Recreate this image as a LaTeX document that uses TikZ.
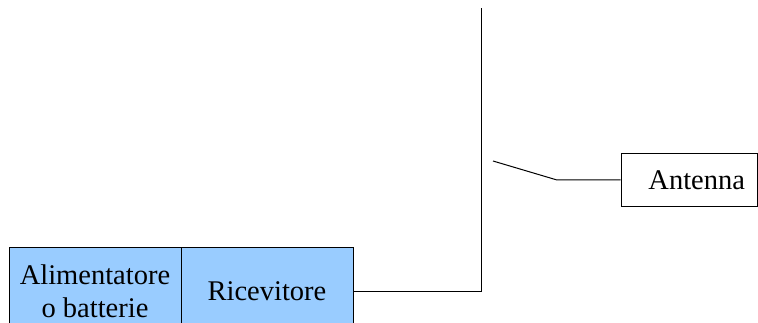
\documentclass[tikz,border=0pt]{standalone}
\usepackage{fontspec}
\setmainfont{Liberation Serif}
\definecolor{boxblue}{RGB}{153,204,255}

\begin{document}
\begin{tikzpicture}[x=1pt,y=-1pt]
\tikzstyle{every node}=[font=\fontsize{28.5}{33}\selectfont]
\tikzstyle{blockbox}=[draw, line width=1pt, fill=boxblue, minimum width=172pt, minimum height=86pt, align=center, inner sep=0pt]
\tikzstyle{labelbox}=[draw, line width=1pt, fill=white, text width=112pt, align=right, inner xsep=12pt, inner ysep=0pt, minimum height=53pt]
\useasboundingbox (0,0) rectangle (758,323);
\clip (0,0) rectangle (758,323);

\node[blockbox] (alim) at (95,291) {Alimentatore\\o batterie};
\node[blockbox] (ric) at (267,291) {Ricevitore};
\node[labelbox] (ant) at (689,180) {Antenna};

\coordinate (joint) at (481,291);
\coordinate (mast) at (481,8);
\coordinate (knee) at (557,180);
\coordinate (tip) at (493,161);

\draw[line width=1pt] (ric.east) -- (joint) -- (mast);
\draw[line width=1pt] (ant.west) -- (knee) -- (tip);
\end{tikzpicture}
\end{document}
